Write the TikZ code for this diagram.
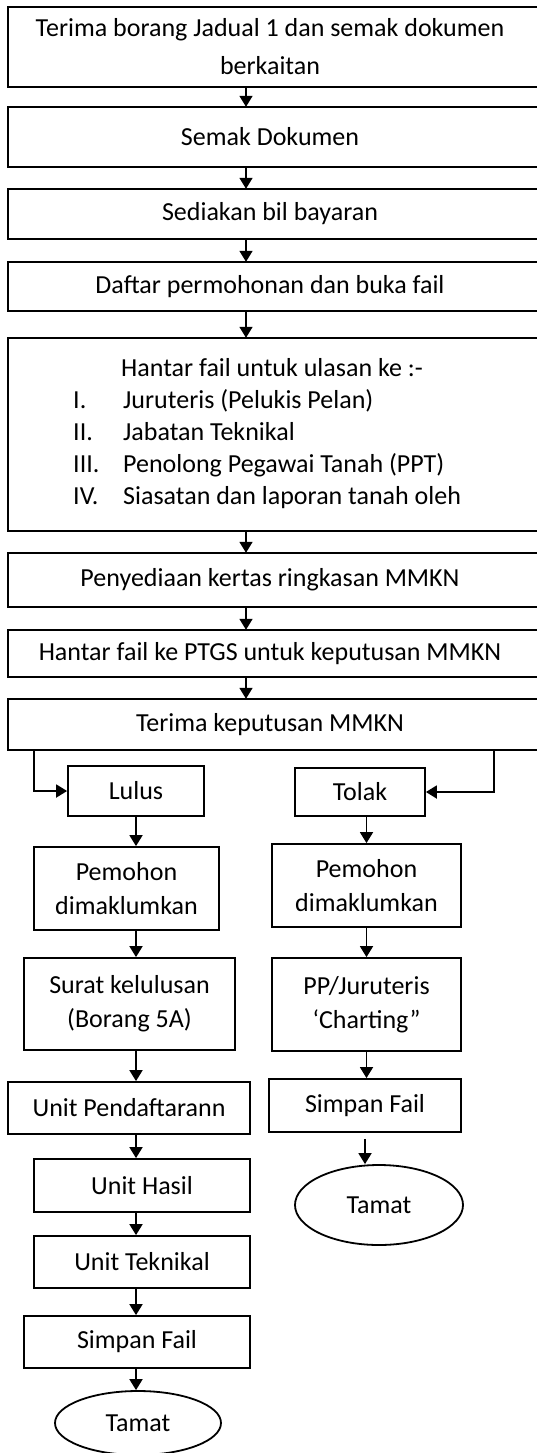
\documentclass[tikz,border=0pt]{standalone}
\usepackage{fontspec}
\setmainfont{Carlito}
\usetikzlibrary{arrows.meta,shapes.geometric}
\begin{document}
\begin{tikzpicture}[x=1pt,y=-1pt,
  every node/.style={font=\fontsize{26}{34}\selectfont, inner sep=0pt},
  wide/.style={minimum width=524pt, align=center},
  box/.style={draw, line width=1.8pt, align=center},
  oval/.style={draw, ellipse, line width=1.8pt},
  arr/.style={line width=1.8pt, -{Triangle[width=13pt,length=11pt]}},
  ln/.style={line width=1.8pt},
  txt/.style={anchor=base west}]
\clip (0,0) rectangle (537,1453);
\fill[white] (0,0) rectangle (537,1453);
\coordinate (ax) at (246,0);
% main column
\node[wide, minimum height=80pt, font=\fontsize{26}{38}\selectfont] (b1) at (270,47) {Terima borang Jadual 1 dan semak dokumen\\berkaitan};
\node[wide, minimum height=60pt] (b2) at (270,137) {Semak Dokumen};
\node[wide, minimum height=50pt] (b3) at (270,214) {Sediakan bil bayaran};
\node[wide, minimum height=49pt] (b4) at (270,286.5) {Daftar permohonan dan buka fail};
\node[wide, minimum height=193pt] (b5) at (270,434.5) {};
\node[wide, minimum height=54pt] (b6) at (270,580) {Penyediaan kertas ringkasan MMKN};
\node[wide, minimum height=47pt] (b7) at (270,653.5) {Hantar fail ke PTGS untuk keputusan MMKN};
\node[wide, minimum height=51pt] (b8) at (270,724.5) {Terima keputusan MMKN};
\foreach \n in {b1,b2,b3,b4,b5,b6,b7,b8}
  \draw[ln] (\n.north west) rectangle ([xshift=30pt]\n.south east);
% texts of box 5
\node[txt] (t0) at (121,376) {Hantar fail untuk ulasan ke :-};
\node[txt] (n1) at (73,408) {I.};
\node[txt] (t1) at (123,408) {Juruteris (Pelukis Pelan)};
\node[txt] (n2) at (73,440) {II.};
\node[txt] (t2) at (123,440) {Jabatan Teknikal};
\node[txt] (n3) at (73,472) {III.};
\node[txt] (t3) at (123,472) {Penolong Pegawai Tanah (PPT)};
\node[txt] (n4) at (73,504) {IV.};
\node[txt] (t4) at (123,504) {Siasatan dan laporan tanah oleh};
% main arrows
\foreach \a/\b in {b1/b2,b2/b3,b3/b4,b4/b5,b5/b6,b6/b7,b7/b8}
  \draw[arr] (\a.south -| ax) -- (\b.north -| ax);
% left branch
\node[box, minimum width=136pt, minimum height=50pt] (lulus) at (136,791) {Lulus};
\node[box, minimum width=185pt, minimum height=83pt] (peml) at (126.5,888.5) {Pemohon\\dimaklumkan};
\node[box, minimum width=211pt, minimum height=92pt] (surat) at (129.5,1004) {Surat kelulusan\\(Borang 5A)};
\node[box, minimum width=242pt, minimum height=52pt] (unitp) at (129,1108) {Unit Pendaftarann};
\node[box, minimum width=216pt, minimum height=53pt] (unith) at (142,1185.5) {Unit Hasil};
\node[box, minimum width=216pt, minimum height=52pt] (unitt) at (142,1262) {Unit Teknikal};
\node[box, minimum width=226pt, minimum height=52pt] (simpl) at (137,1342) {Simpan Fail};
\node[oval, minimum width=166pt, minimum height=64pt] (taml) at (138,1423) {Tamat};
% right branch
\node[box, minimum width=130pt, minimum height=48pt] (tolak) at (360,792) {Tolak};
\node[box, minimum width=189pt, minimum height=83pt] (pemr) at (366.5,885.5) {Pemohon\\dimaklumkan};
\node[box, minimum width=189pt, minimum height=93pt] (pp) at (366.5,1004.5) {PP/Juruteris\\‘Charting”};
\node[box, minimum width=192pt, minimum height=53pt] (simpr) at (365,1105.5) {Simpan Fail};
\node[oval, minimum width=168pt, minimum height=80pt] (tamr) at (379,1205) {Tamat};
% branch connectors
\draw[arr] ([xshift=26pt]b8.south west) |- (lulus.west);
\draw[arr] ([xshift=486pt]b8.south west) |- (tolak.east);
% left arrows
\foreach \a/\b in {lulus/peml,peml/surat,surat/unitp,unitp/unith,unith/unitt,unitt/simpl,simpl/taml}
  \draw[arr] (\a.south -| lulus.south) -- (\b.north -| lulus.south);
% right arrows
\foreach \a/\b in {tolak/pemr,pemr/pp,pp/simpr}
  \draw[arr] (\a.south -| pemr.south) -- (\b.north -| pemr.south);
\draw[arr] ([yshift=-6pt]simpr.south) -- (simpr.south |- tamr.north);
\end{tikzpicture}
\end{document}
